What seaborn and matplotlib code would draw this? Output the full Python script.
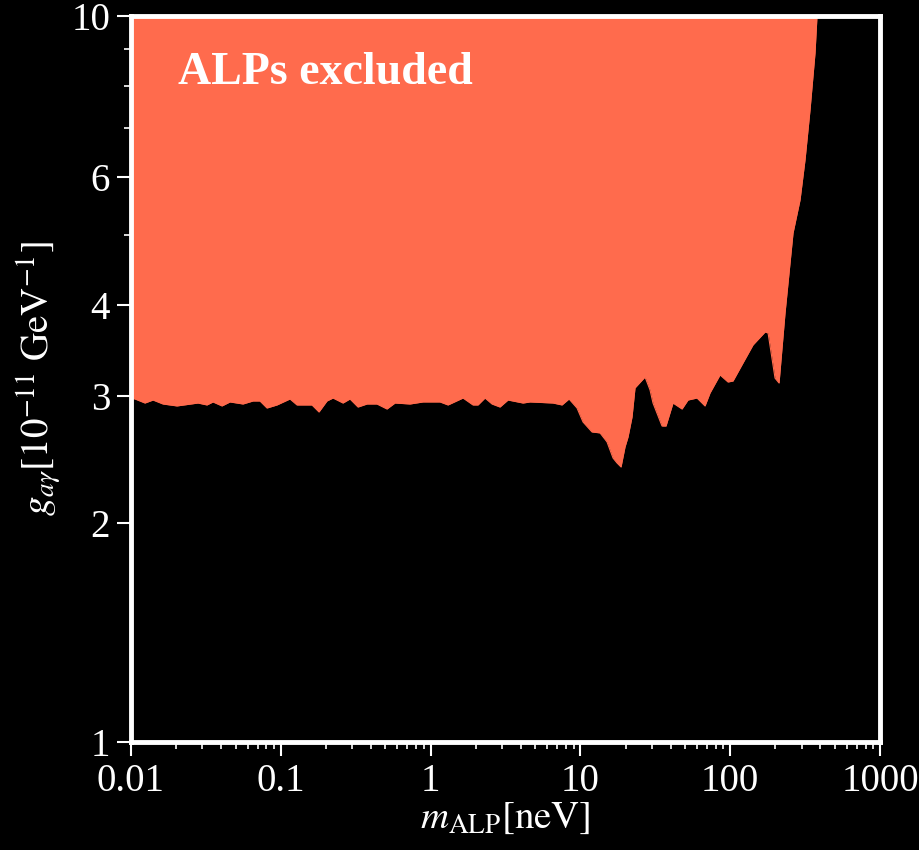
import numpy as np
import pandas as pd
import seaborn as sns
import matplotlib.pyplot as plt
from matplotlib.ticker import FixedLocator, NullFormatter

# ALP mass [neV] along the exclusion boundary
m_alp = [0.01, 0.01063, 0.0124, 0.01403, 0.01635, 0.02028, 0.02801, 0.03216, 0.03527,
         0.04051, 0.0458, 0.05594, 0.06522, 0.07262, 0.08089, 0.09433, 0.1152, 0.1283,
         0.1616, 0.1799, 0.2034, 0.2231, 0.2602, 0.2897, 0.3277, 0.3763, 0.4387, 0.5116,
         0.5786, 0.7287, 0.8899, 1.156, 1.307, 1.646, 1.919, 2.072, 2.308, 2.57, 2.906,
         3.286, 4.139, 4.609, 6.563, 7.538, 8.393, 9.491, 10.41, 11.95, 13.52, 15.05,
         16.51, 17.55, 18.67, 19.85, 20.79, 22.11, 23.15, 27.0, 29.15, 30.52, 35.05,
         37.27, 41.51, 47.68, 52.28, 60.03, 67.87, 73.33, 85.51, 96.67, 104.4, 121.7,
         142.0, 170.8, 178.9, 199.1, 211.8, 232.2, 262.6, 292.4, 315.7, 340.9, 368.2,
         379.6]

# coupling limit [1e-11 GeV^-1]
g_lim = [2.977, 2.968, 2.93, 2.958, 2.921, 2.903, 2.93, 2.912, 2.94, 2.903, 2.94,
         2.921, 2.949, 2.949, 2.884, 2.912, 2.968, 2.912, 2.912, 2.848, 2.949, 2.977,
         2.93, 2.968, 2.893, 2.921, 2.921, 2.875, 2.93, 2.921, 2.94, 2.94, 2.912, 2.977,
         2.912, 2.912, 2.977, 2.921, 2.893, 2.958, 2.93, 2.94, 2.93, 2.912, 2.968,
         2.884, 2.759, 2.673, 2.665, 2.59, 2.461, 2.423, 2.392, 2.549, 2.631, 2.803,
         3.074, 3.182, 3.054, 2.93, 2.724, 2.724, 2.93, 2.875, 2.958, 2.977, 2.903,
         3.025, 3.203, 3.132, 3.142, 3.327, 3.523, 3.67, 3.659, 3.171, 3.122, 3.898,
         5.024, 5.579, 6.335, 7.421, 8.893, 10.0]

y_ticks = [1, 2, 3, 4, 6, 10]
y_minor = [5, 7, 8, 9]
x_ticks = [0.01, 0.1, 1, 10, 100, 1000]
x_labels = ['0.01', '0.1', '1', '10', '100', '1000']

fill_color = '#ff6b4d'

sns.set_theme(style='ticks', rc={
    'figure.facecolor': 'black', 'axes.facecolor': 'black',
    'axes.edgecolor': 'white', 'axes.linewidth': 3.5,
    'xtick.color': 'white', 'ytick.color': 'white',
    'text.color': 'white', 'axes.labelcolor': 'white',
})
plt.rcParams['font.family'] = ['Liberation Serif', 'DejaVu Serif']
plt.rcParams['mathtext.fontset'] = 'stix'

df = pd.DataFrame({'m': m_alp, 'g': g_lim})

fig = plt.figure(figsize=(9.19, 8.5), dpi=100)
ax = fig.add_axes([0.1425, 0.1271, 0.8151, 0.8541])

ax.fill_between(df['m'], df['g'], 10, color=fill_color, lw=0, zorder=1)
sns.lineplot(data=df, x='m', y='g', color=fill_color, lw=0.8, ax=ax, zorder=2)

ax.set_xscale('log')
ax.set_yscale('log')
ax.set_xlim(0.01, 1000)
ax.set_ylim(1, 10)

ax.xaxis.set_major_locator(FixedLocator(x_ticks))
ax.set_xticklabels(x_labels)
ax.yaxis.set_major_locator(FixedLocator(y_ticks))
ax.set_yticklabels([str(t) for t in y_ticks])
ax.yaxis.set_minor_locator(FixedLocator(y_minor))
ax.yaxis.set_minor_formatter(NullFormatter())
ax.xaxis.set_minor_formatter(NullFormatter())

ax.tick_params(which='major', direction='out', length=10, width=1.5, labelsize=28, pad=5)
ax.tick_params(which='minor', direction='out', length=5, width=1.2)

ax.set_xlabel(r'$m_{\mathrm{ALP}}[\mathrm{neV}]$', fontsize=28, labelpad=0)
ax.set_ylabel(r'$g_{a\gamma}[10^{-11}\ \mathrm{GeV}^{-1}]$', fontsize=28, labelpad=6)

ax.text(0.063, 0.922, 'ALPs excluded', transform=ax.transAxes, fontsize=33,
        fontweight='bold', color='white', ha='left', va='center')

for s in ax.spines.values():
    s.set_zorder(5)

fig.savefig('out.png', dpi=100, facecolor='black')
